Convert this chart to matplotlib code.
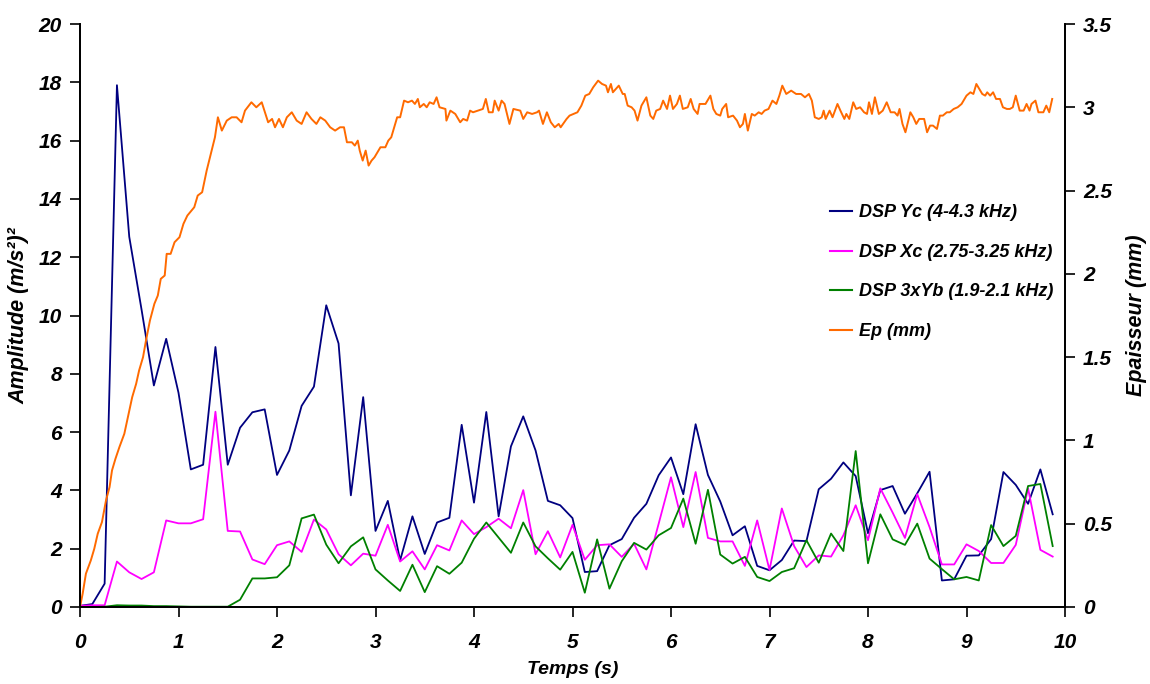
import matplotlib
matplotlib.use("Agg")
import matplotlib.pyplot as plt
import numpy as np
from matplotlib.lines import Line2D

plt.rcParams['font.family'] = ['Liberation Sans', 'DejaVu Sans']

# ---- DSP series (sampled every 0.125 s) ----
t_dsp = [i * 0.125 for i in range(80)]

dsp_yc = [0.04, 0.1, 0.8, 17.9, 12.7, 10.2, 7.6, 9.2, 7.35, 4.72,
          4.88, 8.92, 4.88, 6.15, 6.68, 6.78, 4.53, 5.37, 6.9, 7.56,
          10.35, 9.04, 3.83, 7.2, 2.61, 3.64, 1.6, 3.11, 1.82, 2.9,
          3.06, 6.25, 3.58, 6.69, 3.11, 5.51, 6.54, 5.37, 3.64, 3.49,
          3.05, 1.2, 1.23, 2.12, 2.33, 3.06, 3.54, 4.52, 5.13, 3.87,
          6.27, 4.53, 3.62, 2.46, 2.77, 1.41, 1.26, 1.61, 2.28, 2.26,
          4.04, 4.4, 4.96, 4.49, 2.53, 4.01, 4.15, 3.2, 3.9, 4.64,
          0.91, 0.95, 1.76, 1.77, 2.33, 4.63, 4.19, 3.54, 4.72, 3.18]

dsp_xc = [0.04, 0.06, 0.06, 1.56, 1.19, 0.96, 1.19, 2.97, 2.87, 2.87,
          3.01, 6.7, 2.61, 2.59, 1.63, 1.47, 2.12, 2.25, 1.89, 3.0,
          2.66, 1.81, 1.43, 1.83, 1.76, 2.82, 1.56, 1.91, 1.29, 2.12,
          1.94, 2.97, 2.5, 2.74, 3.03, 2.7, 4.01, 1.81, 2.6, 1.7,
          2.82, 1.62, 2.12, 2.15, 1.72, 2.17, 1.29, 2.86, 4.45, 2.74,
          4.63, 2.37, 2.25, 2.25, 1.41, 2.97, 1.27, 3.38, 2.09, 1.37,
          1.77, 1.73, 2.46, 3.49, 2.29, 4.07, 3.24, 2.37, 3.87, 2.74,
          1.46, 1.46, 2.15, 1.92, 1.51, 1.51, 2.13, 4.07, 1.96, 1.73]

dsp_3xyb = [0.0, 0.0, 0.01, 0.06, 0.05, 0.05, 0.03, 0.03, 0.02, 0.01,
            0.01, 0.01, 0.01, 0.25, 0.98, 0.98, 1.02, 1.43, 3.04, 3.17,
            2.14, 1.5, 2.08, 2.39, 1.29, 0.91, 0.55, 1.45, 0.51, 1.4,
            1.14, 1.52, 2.34, 2.9, 2.38, 1.86, 2.9, 2.08, 1.67, 1.28,
            1.89, 0.49, 2.32, 0.63, 1.57, 2.2, 1.97, 2.46, 2.71, 3.72,
            2.17, 4.02, 1.8, 1.49, 1.72, 1.03, 0.89, 1.2, 1.33, 2.29,
            1.52, 2.52, 1.92, 5.35, 1.5, 3.18, 2.32, 2.13, 2.86, 1.66,
            1.3, 0.95, 1.03, 0.91, 2.81, 2.09, 2.44, 4.15, 4.22, 2.09]

# ---- Thickness Ep (mm) ----
t_ep = [0, 0.027, 0.06, 0.11, 0.145, 0.18, 0.223, 0.264, 0.3, 0.325,
        0.36, 0.4, 0.45, 0.49, 0.53, 0.57, 0.6, 0.64, 0.67, 0.71,
        0.755, 0.79, 0.82, 0.86, 0.88, 0.92, 0.96, 1.01, 1.05, 1.09,
        1.16, 1.195, 1.24, 1.286, 1.37, 1.40, 1.44, 1.49, 1.54, 1.59,
        1.64, 1.675, 1.74, 1.79, 1.845, 1.91, 1.95, 1.98, 2.02, 2.06,
        2.10, 2.15, 2.2, 2.25, 2.3, 2.35, 2.4, 2.44, 2.49, 2.54,
        2.59, 2.64, 2.68, 2.71, 2.76, 2.79, 2.82, 2.84, 2.87, 2.9,
        2.93, 2.96, 2.99, 3.05, 3.10, 3.13, 3.16, 3.22, 3.25, 3.29,
        3.33, 3.37, 3.40, 3.43, 3.45, 3.49, 3.52, 3.55, 3.59, 3.62,
        3.65, 3.71, 3.72, 3.76, 3.81, 3.86, 3.89, 3.93, 3.96, 3.99,
        4.04, 4.09, 4.12, 4.15, 4.19, 4.21, 4.25, 4.28, 4.31, 4.36,
        4.40, 4.47, 4.50, 4.54, 4.59, 4.64, 4.66, 4.70, 4.74, 4.78,
        4.82, 4.86, 4.88, 4.94, 4.97, 5.01, 5.05, 5.09, 5.13, 5.17,
        5.21, 5.26, 5.30, 5.34, 5.36, 5.39, 5.41, 5.47, 5.51, 5.53,
        5.56, 5.60, 5.63, 5.66, 5.70, 5.75, 5.79, 5.82, 5.85, 5.89,
        5.92, 5.96, 5.99, 6.02, 6.06, 6.09, 6.12, 6.17, 6.20, 6.23,
        6.27, 6.29, 6.35, 6.40, 6.43, 6.46, 6.50, 6.52, 6.56, 6.58,
        6.63, 6.67, 6.70, 6.73, 6.75, 6.78, 6.82, 6.85, 6.89, 6.92,
        6.95, 6.99, 7.03, 7.07, 7.10, 7.13, 7.17, 7.22, 7.27, 7.32,
        7.36, 7.40, 7.43, 7.46, 7.50, 7.53, 7.55, 7.57, 7.61, 7.64,
        7.69, 7.72, 7.76, 7.78, 7.81, 7.85, 7.88, 7.92, 7.96, 7.99,
        8.01, 8.04, 8.07, 8.11, 8.15, 8.19, 8.23, 8.27, 8.30, 8.32,
        8.35, 8.38, 8.43, 8.46, 8.49, 8.52, 8.55, 8.57, 8.60, 8.63,
        8.66, 8.70, 8.73, 8.76, 8.80, 8.83, 8.87, 8.91, 8.95, 9.0,
        9.04, 9.07, 9.10, 9.13, 9.16, 9.19, 9.21, 9.24, 9.27, 9.30,
        9.34, 9.37, 9.41, 9.44, 9.47, 9.50, 9.54, 9.58, 9.61, 9.64,
        9.66, 9.70, 9.73, 9.78, 9.81, 9.84, 9.87]

ep = [0, 0.08, 0.2, 0.28, 0.35, 0.44, 0.51, 0.64, 0.72, 0.82,
      0.89, 0.96, 1.04, 1.15, 1.26, 1.34, 1.42, 1.5, 1.6, 1.72,
      1.82, 1.87, 1.97, 1.99, 2.12, 2.12, 2.19, 2.22, 2.3, 2.35,
      2.4, 2.47, 2.49, 2.62, 2.82, 2.94, 2.86, 2.92, 2.94, 2.94,
      2.91, 2.98, 3.03, 3.0, 3.03, 2.91, 2.93, 2.88, 2.93, 2.88,
      2.94, 2.97, 2.92, 2.9, 2.97, 2.93, 2.9, 2.94, 2.92, 2.88,
      2.86, 2.88, 2.88, 2.79, 2.79, 2.77, 2.8, 2.74, 2.68, 2.74,
      2.65, 2.68, 2.7, 2.76, 2.76, 2.8, 2.82, 2.94, 2.94, 3.04,
      3.03, 3.04, 3.02, 3.05, 3.0, 3.02, 3.0, 3.03, 3.02, 3.06,
      3.0, 2.99, 2.92, 2.98, 2.96, 2.91, 2.93, 2.92, 2.98, 2.97,
      2.98, 2.99, 3.05, 2.97, 2.97, 3.04, 2.98, 3.04, 3.02, 2.9,
      2.99, 2.98, 2.93, 2.97, 2.96, 2.97, 2.98, 2.9, 2.97, 2.91,
      2.88, 2.9, 2.88, 2.93, 2.95, 2.96, 2.97, 3.01, 3.07, 3.08,
      3.12, 3.16, 3.14, 3.13, 3.09, 3.14, 3.09, 3.13, 3.08, 3.08,
      3.01, 3.0, 2.98, 2.92, 3.01, 3.06, 2.95, 2.93, 2.98, 2.99,
      3.04, 2.99, 3.07, 2.99, 3.02, 3.07, 2.99, 3.0, 3.05, 2.99,
      2.96, 3.02, 3.02, 3.07, 2.99, 2.96, 2.95, 2.99, 3.02, 2.94,
      2.95, 2.92, 2.88, 2.9, 2.96, 2.86, 2.96, 2.95, 2.97, 2.96,
      2.98, 2.99, 3.04, 3.02, 3.07, 3.13, 3.08, 3.1, 3.08, 3.08,
      3.06, 3.08, 3.04, 2.94, 2.93, 2.94, 2.98, 2.93, 2.98, 2.94,
      3.02, 2.98, 2.93, 2.96, 2.93, 3.03, 2.99, 3.0, 2.97, 2.96,
      3.03, 2.96, 3.06, 2.96, 2.98, 3.03, 2.97, 2.97, 2.95, 2.99,
      2.9, 2.85, 2.97, 2.94, 2.9, 2.93, 2.93, 2.93, 2.85, 2.89,
      2.89, 2.87, 2.95, 2.95, 2.97, 2.97, 2.99, 3.0, 3.02, 3.07,
      3.09, 3.08, 3.14, 3.11, 3.08, 3.07, 3.09, 3.07, 3.09, 3.05,
      3.05, 3.0, 2.99, 2.99, 3.0, 3.07, 2.98, 2.98, 3.02, 2.98,
      3.02, 3.04, 2.97, 2.97, 3.01, 2.97, 3.05]

x_ticks = list(range(0, 11))
y_left_ticks = list(range(0, 21, 2))
y_right_ticks = [0, 0.5, 1, 1.5, 2, 2.5, 3, 3.5]
y_right_labels = ['0', '0.5', '1', '1.5', '2', '2.5', '3', '3.5']

labels = ['DSP Yc (4-4.3 kHz)', 'DSP Xc (2.75-3.25 kHz)',
          'DSP 3xYb (1.9-2.1 kHz)', 'Ep (mm)']
colors = ['#000080', '#FF00FF', '#008000', '#FF6A00']

fig = plt.figure(figsize=(11.5, 6.84), dpi=100)
ax = fig.add_axes([80 / 1150, 1 - 607 / 684, (1065 - 80) / 1150, (607 - 24) / 684])
ax2 = ax.twinx()

fp = dict(fontsize=15, fontweight='bold', fontstyle='italic')
fl = dict(fontsize=14, fontweight='bold', fontstyle='italic')
fy = dict(fontsize=15.5, fontweight='bold', fontstyle='italic')

ax.plot(t_dsp, dsp_yc, color=colors[0], lw=1.3)
ax.plot(t_dsp, dsp_xc, color=colors[1], lw=1.3)
ax.plot(t_dsp, dsp_3xyb, color=colors[2], lw=1.3)
ax2.plot(t_ep, ep, color=colors[3], lw=1.4)

ax.set_xlim(0, 10)
ax.set_ylim(0, 20)
ax2.set_ylim(0, 3.5)
ax.set_xticks(x_ticks)
ax.set_xticklabels([str(v) for v in x_ticks], **fp)
ax.set_yticks(y_left_ticks)
ax.set_yticklabels([str(v) for v in y_left_ticks], **fp)
ax2.set_yticks(y_right_ticks)
ax2.set_yticklabels(y_right_labels, **fp)

for a in (ax, ax2):
    a.spines['top'].set_visible(False)
    a.tick_params(direction='out', length=7, width=1.2, pad=6)
    for s in a.spines.values():
        s.set_linewidth(1.3)
ax.tick_params(axis='x', pad=12)

ax.set_xlabel('Temps (s)', labelpad=6, **fl)
ax.set_ylabel('Amplitude (m/s²)²', labelpad=7, **fy)
ax2.set_ylabel('Epaisseur (mm)', labelpad=10, **fy)

handles = [Line2D([0], [0], color=c, lw=1.5) for c in colors]
fig.legend(handles, labels, loc='upper left', bbox_to_anchor=(814 / 1150, 1 - 188 / 684),
           frameon=False, handlelength=1.2, handletextpad=0.4, labelspacing=1.25,
           prop=dict(size=13, weight='bold', style='italic'))

fig.savefig('out.png', dpi=100)
